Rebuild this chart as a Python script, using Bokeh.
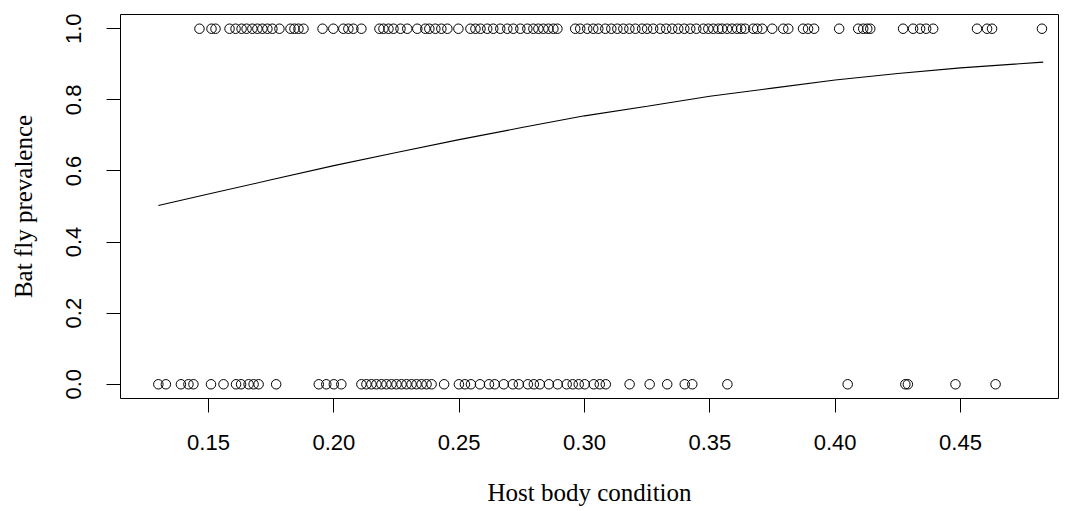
from bokeh.plotting import figure
from bokeh.models import Range1d, FixedTicker
from bokeh.embed import file_html
from bokeh.resources import INLINE

# Infected (prevalence = 1) host body condition values
cond_infected = [
    0.1464, 0.1512, 0.1528, 0.1584, 0.1608, 0.1632, 0.1652, 0.1675, 0.1695, 0.1715,
    0.1735, 0.1755, 0.1783, 0.1827, 0.1843, 0.1859, 0.1879, 0.1955, 0.1998, 0.2038,
    0.2058, 0.2078, 0.2110, 0.2182, 0.2198, 0.2218, 0.2238, 0.2266, 0.2293, 0.2333,
    0.2365, 0.2381, 0.2405, 0.2429, 0.2453, 0.2497, 0.2545, 0.2565, 0.2585, 0.2612,
    0.2636, 0.2664, 0.2692, 0.2716, 0.2744, 0.2772, 0.2796, 0.2816, 0.2836, 0.2856,
    0.2876, 0.2892, 0.2963, 0.2983, 0.3011, 0.3035, 0.3055, 0.3083, 0.3107, 0.3131,
    0.3155, 0.3179, 0.3203, 0.3230, 0.3250, 0.3274, 0.3302, 0.3326, 0.3350, 0.3374,
    0.3398, 0.3422, 0.3446, 0.3474, 0.3494, 0.3514, 0.3534, 0.3549, 0.3569, 0.3589,
    0.3609, 0.3625, 0.3641, 0.3673, 0.3689, 0.3709, 0.3749, 0.3793, 0.3813, 0.3872,
    0.3892, 0.3916, 0.4016, 0.4092, 0.4112, 0.4128, 0.4140, 0.4271, 0.4311, 0.4339,
    0.4363, 0.4391, 0.4566, 0.4606, 0.4626, 0.4825,
]
# Uninfected (prevalence = 0) host body condition values
cond_uninfected = [
    0.130, 0.133, 0.139, 0.142, 0.144, 0.151, 0.156, 0.161, 0.163, 0.166,
    0.168, 0.170, 0.177, 0.194, 0.197, 0.200, 0.203, 0.211, 0.213, 0.215,
    0.217, 0.219, 0.221, 0.223, 0.225, 0.227, 0.229, 0.231, 0.233, 0.235,
    0.237, 0.239, 0.244, 0.2499, 0.2523, 0.2547, 0.2583, 0.2619, 0.2642, 0.2678,
    0.2714, 0.2738, 0.2774, 0.2798, 0.2822, 0.2858, 0.2893, 0.2929, 0.2953, 0.2977,
    0.3001, 0.3037, 0.3061, 0.3085, 0.318, 0.326, 0.333, 0.340, 0.343, 0.357,
    0.405, 0.428, 0.429, 0.448, 0.464,
]
# Fitted prevalence curve
fit_x = [0.130, 0.150, 0.175, 0.200, 0.225, 0.250, 0.275, 0.300, 0.325, 0.350,
         0.375, 0.400, 0.425, 0.450, 0.483]
fit_y = [0.503, 0.535, 0.575, 0.615, 0.652, 0.688, 0.722, 0.755, 0.782, 0.810,
         0.833, 0.856, 0.874, 0.890, 0.906]

x_ticks = [0.15, 0.20, 0.25, 0.30, 0.35, 0.40, 0.45]
x_tick_labels = ["0.15", "0.20", "0.25", "0.30", "0.35", "0.40", "0.45"]
y_ticks = [0.0, 0.2, 0.4, 0.6, 0.8, 1.0]
y_tick_labels = ["0.0", "0.2", "0.4", "0.6", "0.8", "1.0"]

p = figure(width=1066, height=511, output_backend="svg", toolbar_location=None,
           x_range=Range1d(0.1149, 0.4891), y_range=Range1d(-0.04, 1.04),
           min_border_left=120, min_border_right=8, min_border_top=14,
           min_border_bottom=113, background_fill_color="white",
           border_fill_color="white")
p.grid.visible = False
p.outline_line_color = "black"
p.outline_line_width = 1

p.scatter(cond_infected, [1] * len(cond_infected), marker="circle", size=9.5,
          fill_color=None, line_color="black", line_width=1)
p.scatter(cond_uninfected, [0] * len(cond_uninfected), marker="circle", size=9.5,
          fill_color=None, line_color="black", line_width=1)
p.line(fit_x, fit_y, line_color="black", line_width=1.1)

for ax in (p.xaxis[0], p.yaxis[0]):
    ax.axis_line_color = None
    ax.major_tick_line_color = "black"
    ax.major_tick_out = 14
    ax.major_tick_in = 0
    ax.minor_tick_line_color = None
    ax.major_label_text_font = "Liberation Sans"
    ax.major_label_text_font_size = "22px"
    ax.major_label_text_color = "black"
    ax.axis_label_text_font = "Liberation Serif"
    ax.axis_label_text_font_size = "25px"
    ax.axis_label_text_font_style = "normal"
    ax.axis_label_text_color = "black"

p.xaxis[0].ticker = FixedTicker(ticks=x_ticks)
p.xaxis[0].major_label_overrides = dict(zip(x_ticks, x_tick_labels))
p.xaxis[0].axis_label = "Host body condition"
p.xaxis[0].major_label_standoff = 22
p.xaxis[0].axis_label_standoff = 26

p.yaxis[0].ticker = FixedTicker(ticks=y_ticks)
p.yaxis[0].major_label_overrides = dict(zip(y_ticks, y_tick_labels))
p.yaxis[0].major_label_orientation = "vertical"
p.yaxis[0].axis_label = "Bat fly prevalence"
p.yaxis[0].major_label_standoff = 25
p.yaxis[0].axis_label_standoff = 27

open("out.html", "w").write(file_html(p, INLINE))
